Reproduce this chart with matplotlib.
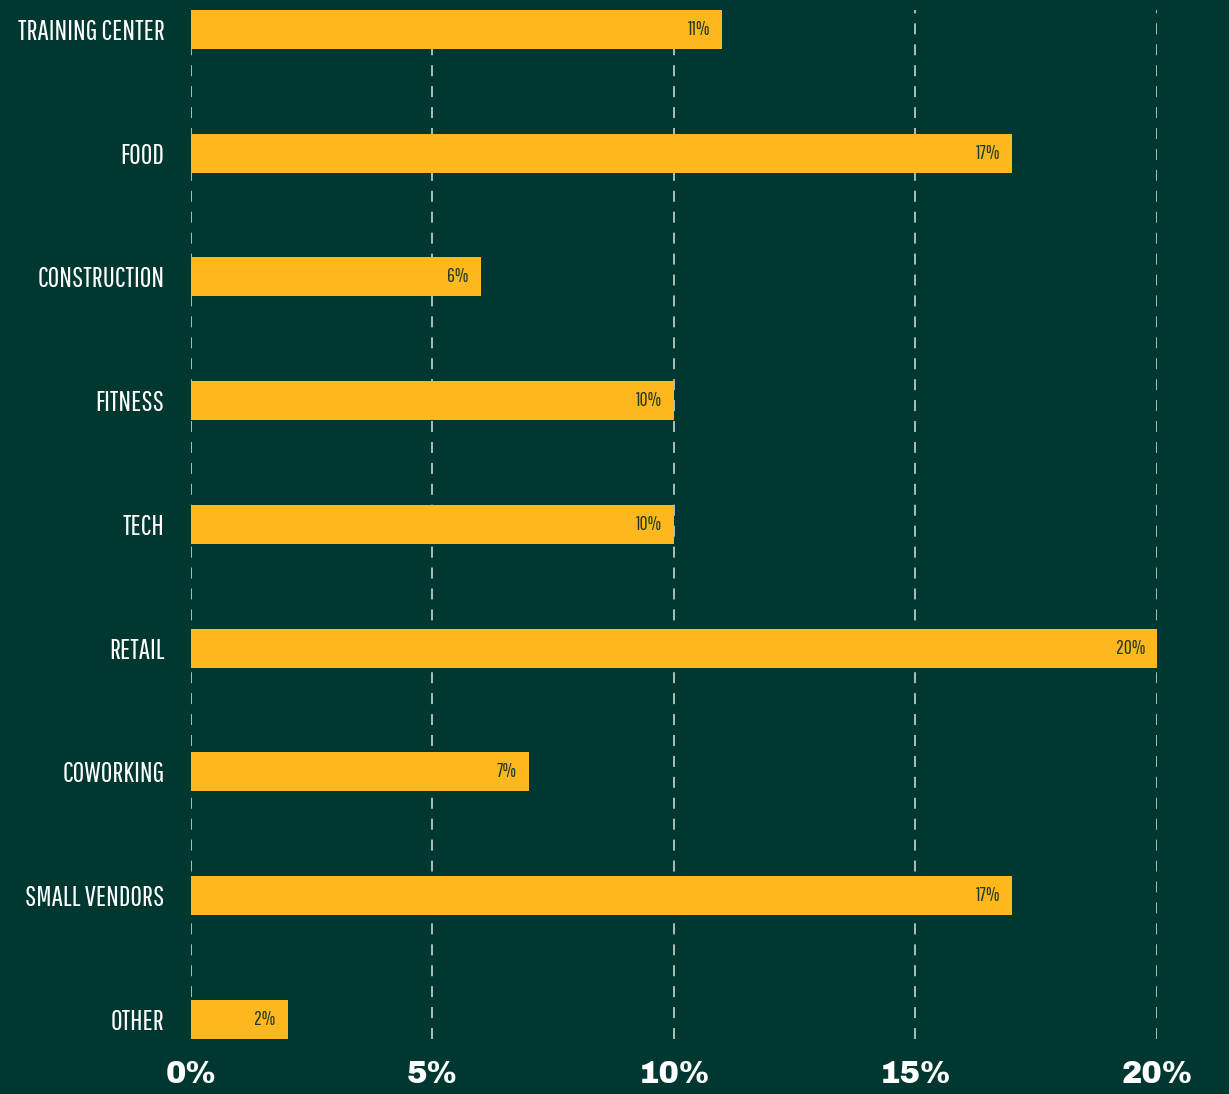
import numpy as np
import matplotlib
matplotlib.use("Agg")
import matplotlib.pyplot as plt

BG = "#003731"
BAR = "#FDB81E"
LABEL_DARK = "#1F3A2A"
GRID = "#d9e2df"

LABEL_FONT = ["Pathway Gothic One", "League Gothic", "Archivo Narrow", "DejaVu Sans"]
TICK_FONT = ["Archivo Black", "DejaVu Sans"]

categories = ["TRAINING CENTER", "FOOD", "CONSTRUCTION", "FITNESS", "TECH",
              "RETAIL", "COWORKING", "SMALL VENDORS", "OTHER"]
shares = [11, 17, 6, 10, 10, 20, 7, 17, 2]
xticks = [0, 5, 10, 15, 20]
xtick_labels = ["0%", "5%", "10%", "15%", "20%"]

fig = plt.figure(figsize=(12.29, 10.94), dpi=100, facecolor=BG)
ax = fig.add_axes([0.1554, 0.0503, 0.9414 - 0.1554, 0.9909 - 0.0503])
ax.set_facecolor(BG)

y = np.arange(len(categories))
bar_h = 0.315
ax.barh(y, shares, height=bar_h, color=BAR, zorder=2)

# dashed guides behind the bars
for xv in xticks:
    ax.axvline(xv, color=GRID, lw=1.1, dashes=(7.2, 6.5), zorder=1)

for yi, v in zip(y, shares):
    ax.text(v - 0.25, yi, f"{v}%", ha="right", va="center", fontsize=14,
            color=LABEL_DARK, family=LABEL_FONT, zorder=3)

ax.set_xlim(0, 20)
ax.set_ylim(len(categories) - 1 + bar_h / 2, -bar_h / 2)
ax.set_yticks(y)
ax.set_yticklabels(categories, fontsize=20.5, color="white", family=LABEL_FONT)
ax.set_xticks(xticks)
ax.set_xticklabels(xtick_labels, fontsize=22, color="white", family=TICK_FONT)
ax.tick_params(axis="both", length=0)
ax.tick_params(axis="y", pad=19)
ax.tick_params(axis="x", pad=15)
for s in ax.spines.values():
    s.set_visible(False)

fig.savefig("out.png", dpi=100, facecolor=BG)
